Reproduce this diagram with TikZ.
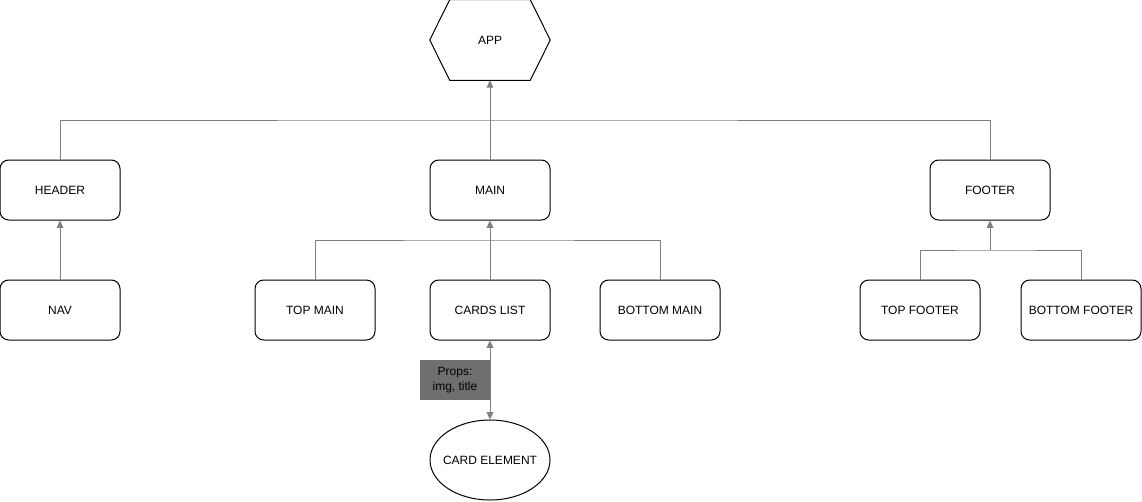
\documentclass[tikz,border=0pt]{standalone}
\usepackage{fontspec}
\setmainfont{Liberation Sans}
\usetikzlibrary{arrows.meta,shapes.geometric}
\definecolor{edgegray}{RGB}{128,128,128}
\definecolor{propsgray}{RGB}{111,111,111}
\tikzset{
  box/.style={draw=black, line width=0.75pt, rounded corners=6.5pt, minimum width=90pt, minimum height=45pt, inner sep=0pt, font=\fontsize{9}{11}\selectfont, align=center},
  ell/.style={draw=black, line width=0.75pt, ellipse, minimum width=90pt, minimum height=60pt, inner sep=0pt, font=\fontsize{9}{11}\selectfont},
  edge/.style={draw=edgegray, line width=0.75pt, -{Triangle[length=5.5pt,width=5pt]}},
  bothedge/.style={draw=edgegray, line width=0.75pt, {Triangle[length=5.5pt,width=5pt]}-{Triangle[length=5.5pt,width=5pt]}},
  plain/.style={draw=edgegray, line width=0.75pt},
  propsbox/.style={fill=propsgray, minimum width=52.5pt, minimum height=30pt, inner sep=0pt, align=center, font=\fontsize{9}{11}\selectfont},
}
\begin{document}
\begin{tikzpicture}[x=0.75pt, y=-0.75pt]
\useasboundingbox (0,0) rectangle (1142,501);
% APP hexagon
\node[minimum width=90pt, minimum height=60pt, inner sep=0pt, font=\fontsize{9}{11}\selectfont] (app) at (490,40) {APP};
\draw[line width=0.75pt] (app.west) -- ([xshift=15pt]app.north west) -- ([xshift=-15pt]app.north east) -- (app.east) -- ([xshift=-15pt]app.south east) -- ([xshift=15pt]app.south west) -- cycle;
% level 1
\node[box] (header) at (60,190) {HEADER};
\node[box] (main) at (490,190) {MAIN};
\node[box] (footer) at (990,190) {FOOTER};
% level 2
\node[box] (nav) at (60,310) {NAV};
\node[box] (topmain) at (315,310) {TOP MAIN};
\node[box] (cards) at (490,310) {CARDS LIST};
\node[box] (bottommain) at (660,310) {BOTTOM MAIN};
\node[box] (topfooter) at (920,310) {TOP FOOTER};
\node[box] (bottomfooter) at (1081,310) {BOTTOM FOOTER};
% card element
\node[ell] (card) at (490,460) {\makebox[0pt]{CARD ELEMENT}};
% bus coordinates
\coordinate (bus1) at (490,120);
\coordinate (bus2) at (490,240);
\coordinate (bus3) at (990,250);
% connectors
\draw[edge] (main.north) -- (app.south);
\draw[plain] (header.north) |- (bus1) -| (footer.north);
\draw[edge] (nav.north) -- (header.south);
\draw[edge] (cards.north) -- (main.south);
\draw[plain] (topmain.north) |- (bus2) -| (bottommain.north);
\draw[edge] (bus3) -- (footer.south);
\draw[plain] (topfooter.north) |- (bus3) -| (bottomfooter.north);
\draw[bothedge] (cards.south) -- (card.north);
% props label
\node[propsbox] (props) at (455,380) {Props:\\img, title};
\end{tikzpicture}
\end{document}
